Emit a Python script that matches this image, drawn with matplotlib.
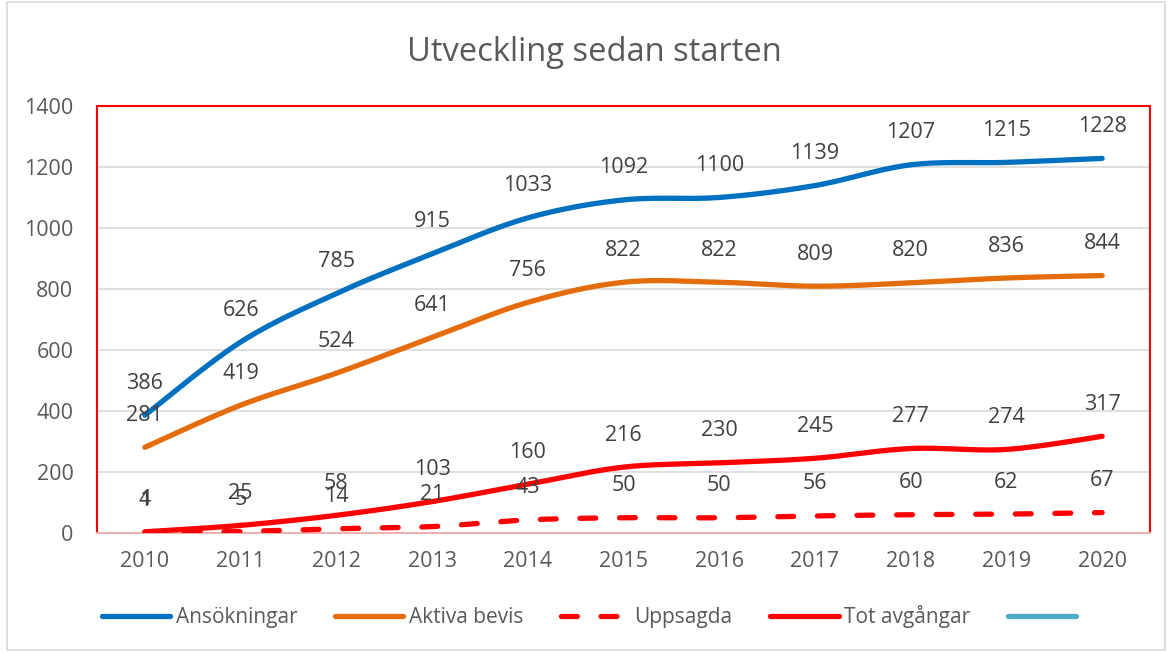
import numpy as np
import matplotlib
matplotlib.use("Agg")
from matplotlib import pyplot as plt
from matplotlib.lines import Line2D
from matplotlib.patches import Rectangle

plt.rcParams['font.family'] = ['Open Sans', 'DejaVu Sans']

years = ["2010", "2011", "2012", "2013", "2014", "2015", "2016", "2017", "2018", "2019", "2020"]
ansokningar = [386, 626, 785, 915, 1033, 1092, 1100, 1139, 1207, 1215, 1228]
aktiva_bevis = [281, 419, 524, 641, 756, 822, 822, 809, 820, 836, 844]
uppsagda = [1, 5, 14, 21, 43, 50, 50, 56, 60, 62, 67]
tot_avgangar = [4, 25, 58, 103, 160, 216, 230, 245, 277, 274, 317]

grey = "#595959"


def smooth(x, y, n=30):
    # Excel-like smoothed line: Catmull-Rom control points, cubic Bezier segments
    x = np.asarray(x, float)
    y = np.asarray(y, float)
    px, py = [], []
    for i in range(len(x) - 1):
        x0, y0 = (x[i - 1], y[i - 1]) if i > 0 else (x[i], y[i])
        x3, y3 = (x[i + 2], y[i + 2]) if i + 2 < len(x) else (x[i + 1], y[i + 1])
        c1x = x[i] + (x[i + 1] - x0) / 6
        c1y = y[i] + (y[i + 1] - y0) / 6
        c2x = x[i + 1] - (x3 - x[i]) / 6
        c2y = y[i + 1] - (y3 - y[i]) / 6
        t = np.linspace(0, 1, n)
        px.extend((1 - t) ** 3 * x[i] + 3 * (1 - t) ** 2 * t * c1x + 3 * (1 - t) * t ** 2 * c2x + t ** 3 * x[i + 1])
        py.extend((1 - t) ** 3 * y[i] + 3 * (1 - t) ** 2 * t * c1y + 3 * (1 - t) * t ** 2 * c2y + t ** 3 * y[i + 1])
    return px, py


fig = plt.figure(figsize=(11.7, 6.52), dpi=100)
fig.patches.append(Rectangle((0.006, 0.003), 0.99, 0.994, transform=fig.transFigure,
                             fill=False, edgecolor="#d9d9d9", linewidth=1.2))
ax = fig.add_axes([0.0829, 0.1825, 0.9, 0.655])

xs = np.arange(len(years))
series = [
    (ansokningar, "#0070C0", "-", "Ansökningar"),
    (aktiva_bevis, "#E46C0A", "-", "Aktiva bevis"),
    (uppsagda, "#FF0000", (0, (3, 4.5)), "Uppsagda"),
    (tot_avgangar, "#FF0000", "-", "Tot avgångar"),
]
for vals, col, ls, lab in series:
    sx, sy = smooth(xs, vals)
    ax.plot(sx, sy, color=col, linestyle=ls, linewidth=3.8, solid_capstyle="round",
            dash_capstyle="round", label=lab, zorder=3)
    for x, v in zip(xs, vals):
        ax.annotate(str(v), (x, v), xytext=(0, 23), textcoords="offset points",
                    ha="center", va="center", fontsize=15.5, color="#404040", zorder=4)

ax.set_xlim(-0.5, len(years) - 0.5)
ax.set_ylim(0, 1400)
ax.set_yticks(range(0, 1401, 200))
ax.set_xticks(xs)
ax.set_xticklabels(years)
ax.tick_params(axis="both", length=0, labelsize=15.5, labelcolor=grey)
ax.tick_params(axis="x", pad=13)
ax.tick_params(axis="y", pad=17)
ax.grid(axis="y", color="#d9d9d9", linewidth=1.2)
ax.set_axisbelow(True)
for s in ["top", "left", "right"]:
    ax.spines[s].set_color("#FF0000")
    ax.spines[s].set_linewidth(1.5)
ax.spines["bottom"].set_color("#f2b0b0")
ax.spines["bottom"].set_linewidth(1.5)

fig.suptitle("Utveckling sedan starten", x=0.508, y=0.945, fontsize=23.5, color=grey)

handles, labels = ax.get_legend_handles_labels()
handles.append(Line2D([], [], color="#4BACC6", linewidth=3.8, solid_capstyle="round"))
labels.append(" ")
fig.legend(handles, labels, loc="center", bbox_to_anchor=(0.508, 0.054), ncol=5, frameon=False,
           fontsize=15, labelcolor=grey, handlelength=3.3, handletextpad=0.25, columnspacing=1.8)

fig.savefig("out.png", dpi=100)
